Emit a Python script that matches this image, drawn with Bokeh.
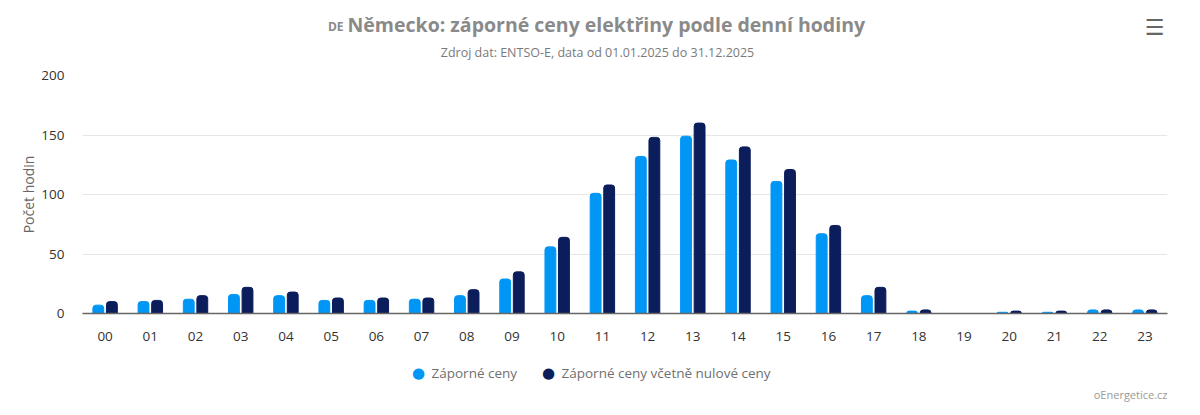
from bokeh.plotting import figure
from bokeh.models import ColumnDataSource, Label, FactorRange
from bokeh.transform import dodge
from bokeh.embed import file_html
from bokeh.resources import INLINE

hours = ["%02d" % h for h in range(24)]
negative = [7, 10, 12, 16, 15, 11, 11, 12, 15, 29, 56, 101, 132, 149, 129, 111, 67, 15, 2, 0, 1, 1, 3, 3]
neg_or_zero = [10, 11, 15, 22, 18, 13, 13, 13, 20, 35, 64, 108, 148, 160, 140, 121, 74, 22, 3, 0, 2, 2, 3, 3]
series_names = ["Záporné ceny", "Záporné ceny včetně nulové ceny"]
colors = ["#0096f5", "#0b1d5a"]
y_ticks = [0, 50, 100, 150, 200]

src = ColumnDataSource(dict(hour=hours, a=negative, b=neg_or_zero))

FONT = "Open Sans"
p = figure(x_range=FactorRange(*hours), y_range=(0, 200), width=1200, height=415,
           output_backend="svg", toolbar_location=None,
           min_border_left=82, min_border_right=33, min_border_top=75, min_border_bottom=102)
p.outline_line_color = None
p.background_fill_color = "white"
p.border_fill_color = "white"

r1 = p.vbar(x=dodge("hour", -0.15, range=p.x_range), top="a", width=0.24, source=src,
            color=colors[0], border_radius=(3, 3, 0, 0))
r2 = p.vbar(x=dodge("hour", 0.15, range=p.x_range), top="b", width=0.24, source=src,
            color=colors[1], border_radius=(3, 3, 0, 0))

p.xgrid.grid_line_color = None
p.ygrid.grid_line_color = "#e6e6e6"
p.yaxis.ticker = y_ticks
p.yaxis.axis_line_color = None
p.yaxis.major_tick_line_color = None
p.yaxis.minor_tick_line_color = None
p.yaxis.major_label_text_font = FONT
p.yaxis.major_label_text_font_size = "13.5px"
p.yaxis.major_label_text_color = "#333333"
p.yaxis.major_label_standoff = 12
p.yaxis.axis_label = "Počet hodin"
p.yaxis.axis_label_text_font = FONT
p.yaxis.axis_label_text_font_style = "normal"
p.yaxis.axis_label_text_font_size = "14px"
p.yaxis.axis_label_text_color = "#666666"
p.yaxis.axis_label_standoff = 0

p.xaxis.axis_line_color = "#666666"
p.xaxis.axis_line_width = 1.5
p.xaxis.major_tick_line_color = None
p.xaxis.minor_tick_line_color = None
p.xaxis.major_label_text_font = FONT
p.xaxis.major_label_text_font_size = "13.5px"
p.xaxis.major_label_text_color = "#333333"
p.xaxis.major_label_standoff = 12


def lab(text, x, y, size, color, style="normal", align="left", font=FONT, panel="above"):
    p.add_layout(Label(x=x, y=y, x_units="canvas", y_units="canvas", text=text,
                       text_font=font, text_font_size=size, text_color=color,
                       text_font_style=style, text_align=align, text_baseline="middle"), panel)


# header (labels spread over side panels so that they fit within the borders)
lab("Německo: záporné ceny elektřiny podle denní hodiny", 347, 24, "19.5px", "#8a8a8a", "bold", "left")
lab("Zdroj dat: ENTSO-E, data od 01.01.2025 do 31.12.2025", 597, 52, "12.5px", "#7a7a7a", "normal", "center")
lab("DE", 343, 26, "12px", "#8a8a8a", "bold", "right", panel="below")
lab("☰", 1154, 27, "22px", "#666666", "bold", "center", font="DejaVu Sans", panel="right")

# legend (marker + label per series)
lab("●", 418, 372, "15px", colors[0], "normal", "center", font="DejaVu Sans", panel="above")
lab(series_names[0], 431, 372, "13.5px", "#707070", "normal", "left", panel="below")
lab("●", 548, 372, "15px", colors[1], "normal", "center", font="DejaVu Sans", panel="right")
lab(series_names[1], 561, 372, "13.5px", "#707070", "normal", "left", panel="below")

# credit
lab("oEnergetice.cz", 1167, 394, "11px", "#999999", "normal", "right", panel="below")

open("out.html", "w").write(file_html(p, INLINE))
